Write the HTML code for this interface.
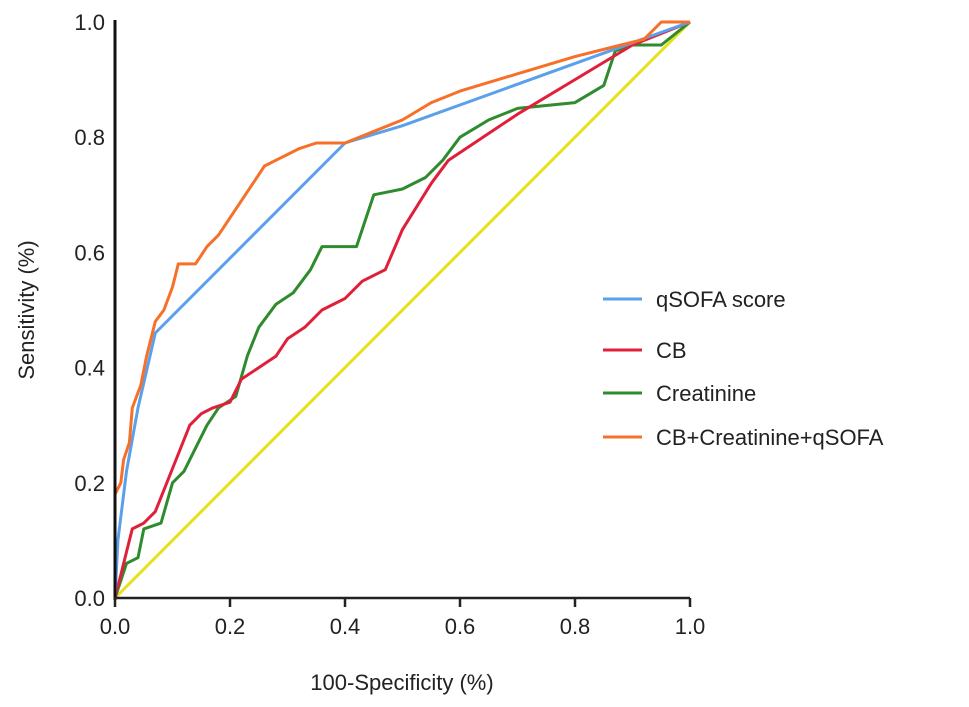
<!DOCTYPE html>
<html><head><meta charset="utf-8"><style>
body{margin:0;background:#fff;}
svg{display:block;font-family:"Liberation Sans",Arial,sans-serif;}
</style></head><body>
<svg id="chart" width="969" height="707" viewBox="0 0 969 707"></svg>
<script>
const xTicks=[0,0.2,0.4,0.6,0.8,1.0];
const yTicks=[0,0.2,0.4,0.6,0.8,1.0];
const seriesNames=["qSOFA score","CB","Creatinine","CB+Creatinine+qSOFA"];
const qsofaX=[0,0.005,0.02,0.04,0.07,0.4,0.5,1];
const qsofaY=[0,0.1,0.22,0.33,0.46,0.79,0.82,1];
const cbX=[0,0.01,0.02,0.03,0.05,0.07,0.09,0.11,0.13,0.15,0.17,0.2,0.22,0.25,0.28,0.3,0.33,0.36,0.4,0.43,0.47,0.5,0.55,0.58,0.7,0.8,0.9,1];
const cbY=[0,0.04,0.08,0.12,0.13,0.15,0.2,0.25,0.3,0.32,0.33,0.34,0.38,0.4,0.42,0.45,0.47,0.5,0.52,0.55,0.57,0.64,0.72,0.76,0.84,0.9,0.96,1];
const crX=[0,0.01,0.02,0.04,0.05,0.08,0.1,0.12,0.14,0.16,0.18,0.21,0.23,0.25,0.28,0.31,0.34,0.36,0.42,0.44,0.45,0.5,0.54,0.57,0.6,0.65,0.7,0.8,0.85,0.87,0.9,0.95,1];
const crY=[0,0.03,0.06,0.07,0.12,0.13,0.2,0.22,0.26,0.3,0.33,0.35,0.42,0.47,0.51,0.53,0.57,0.61,0.61,0.67,0.7,0.71,0.73,0.76,0.8,0.83,0.85,0.86,0.89,0.95,0.96,0.96,1];
const combX=[0,0,0.01,0.015,0.025,0.03,0.045,0.055,0.06,0.07,0.085,0.1,0.11,0.14,0.16,0.18,0.2,0.22,0.24,0.26,0.28,0.3,0.32,0.35,0.4,0.45,0.5,0.55,0.6,0.7,0.8,0.88,0.92,0.95,1];
const combY=[0,0.18,0.2,0.24,0.27,0.33,0.37,0.42,0.44,0.48,0.5,0.54,0.58,0.58,0.61,0.63,0.66,0.69,0.72,0.75,0.76,0.77,0.78,0.79,0.79,0.81,0.83,0.86,0.88,0.91,0.94,0.96,0.97,1,1];
const refX=[0,1], refY=[0,1];

const NS="http://www.w3.org/2000/svg";
const svg=document.getElementById('chart');
const X0=115,X1=690,Y0=598,Y1=22;
function sx(v){return X0+(X1-X0)*v;}
function sy(v){return Y0-(Y0-Y1)*v;}
function mk(t,a){const e=document.createElementNS(NS,t);for(const k in a)e.setAttribute(k,a[k]);svg.appendChild(e);return e;}
function line(xs,ys,color,name){
  const pts=xs.map((x,i)=>sx(x).toFixed(1)+','+sy(ys[i]).toFixed(1)).join(' ');
  const p=mk('polyline',{points:pts,fill:'none',stroke:color,'stroke-width':3,'stroke-linejoin':'round'});
  
  
}
line(refX,refY,'#e5e21a','reference-diagonal');
line(crX,crY,'#2e8b2e','creatinine-line');
line(cbX,cbY,'#e0203a','cb-line');
line(qsofaX,qsofaY,'#5aa0ea','qsofa-line');
line(combX,combY,'#f7702a','combined-line');
// axes
const ya=mk('line',{x1:X0,y1:Y1-2,x2:X0,y2:Y0+2,stroke:'#111','stroke-width':3});

const xa=mk('line',{x1:X0-1,y1:Y0,x2:X1,y2:Y0,stroke:'#222','stroke-width':2.5});

xTicks.forEach(v=>{
  const t=mk('line',{x1:sx(v),y1:Y0,x2:sx(v),y2:Y0+9,stroke:'#222','stroke-width':2.5});
  
  const l=mk('text',{x:sx(v),y:Y0+36,'font-size':22,'text-anchor':'middle',fill:'#222'});
  l.textContent=v.toFixed(1);
  
});
yTicks.forEach(v=>{
  const l=mk('text',{x:X0-10,y:sy(v)+8,'font-size':22,'text-anchor':'end',fill:'#222'});
  l.textContent=v.toFixed(1);
  
});
const xt=mk('text',{x:402,y:690,'font-size':22,'text-anchor':'middle',fill:'#222'});
xt.textContent='100-Specificity (%)';

const yt=mk('text',{x:0,y:0,'font-size':22,'text-anchor':'middle',fill:'#222',transform:'translate(34,310) rotate(-90)'});
yt.textContent='Sensitivity (%)';

const colors=['#5aa0ea','#e0203a','#2e8b2e','#f7702a'];
const ly=[299,350,393,437];
seriesNames.forEach((n,i)=>{
  const l=mk('line',{x1:603,y1:ly[i],x2:642,y2:ly[i],stroke:colors[i],'stroke-width':3});
  
  const t=mk('text',{x:656,y:ly[i]+8,'font-size':22,fill:'#222'});
  t.textContent=n;
  
});
</script>
</body></html>
